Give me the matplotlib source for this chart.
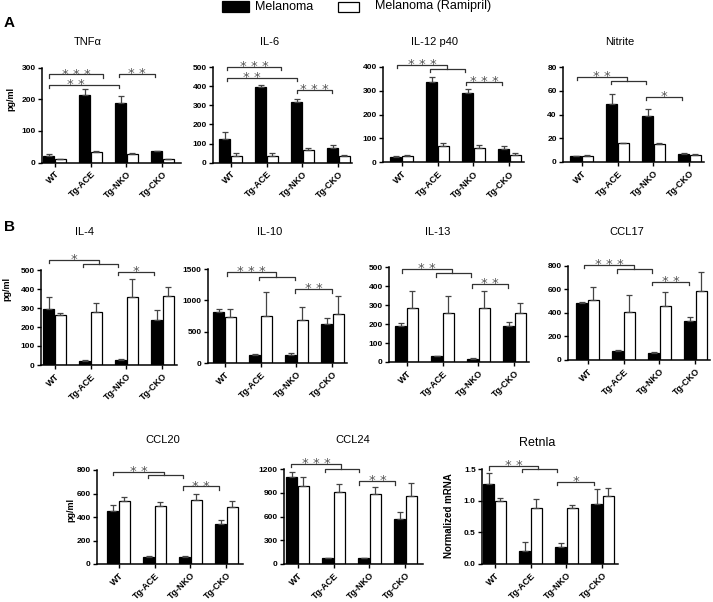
import matplotlib
matplotlib.use('Agg')
import matplotlib.pyplot as plt
from matplotlib.patches import Rectangle
import numpy as np

plt.rcParams['font.family'] = ['Liberation Sans', 'DejaVu Sans']

groups = ['WT', 'Tg-ACE', 'Tg-NKO', 'Tg-CKO']

# mean values and upper SEM, black = Melanoma, white = Melanoma (Ramipril)
tnfa_mel = [20, 212, 187, 37]
tnfa_mel_err = [8, 19, 23, 0]
tnfa_ram = [11, 35, 27, 11]
tnfa_ram_err = [2, 3, 3, 2]

il6_mel = [123, 396, 318, 75]
il6_mel_err = [38, 9, 17, 17]
il6_ram = [36, 36, 66, 35]
il6_ram_err = [13, 16, 9, 7]

il12_mel = [24, 335, 289, 56]
il12_mel_err = [1, 23, 17, 12]
il12_ram = [25, 68, 61, 31]
il12_ram_err = [6, 14, 11, 7]

nitrite_mel = [4.8, 48.8, 38.5, 7.0]
nitrite_mel_err = [0.3, 8.7, 6.1, 0.3]
nitrite_ram = [5.3, 15.7, 15.6, 6.1]
nitrite_ram_err = [0.3, 0.3, 0.3, 0.3]

il4_mel = [293, 23, 26, 237]
il4_mel_err = [67, 3, 3, 52]
il4_ram = [263, 279, 360, 363]
il4_ram_err = [12, 46, 91, 49]

il10_mel = [816, 122, 122, 625]
il10_mel_err = [43, 26, 32, 90]
il10_ram = [731, 753, 689, 784]
il10_ram_err = [133, 381, 201, 286]

il13_mel = [191, 30, 18, 189]
il13_mel_err = [12, 4, 3, 19]
il13_ram = [286, 256, 284, 256]
il13_ram_err = [89, 92, 91, 57]

ccl17_mel = [486, 76, 62, 331]
ccl17_mel_err = [9, 9, 3, 36]
ccl17_ram = [509, 404, 458, 585]
ccl17_ram_err = [107, 147, 122, 158]

ccl20_mel = [454, 57, 57, 338]
ccl20_mel_err = [48, 8, 8, 36]
ccl20_ram = [539, 496, 545, 482]
ccl20_ram_err = [28, 32, 51, 54]

ccl24_mel = [1099, 72, 72, 570]
ccl24_mel_err = [63, 4, 4, 89]
ccl24_ram = [985, 908, 887, 853]
ccl24_ram_err = [114, 106, 85, 169]

retnla_mel = [1.26, 0.21, 0.27, 0.94]
retnla_mel_err = [0.18, 0.14, 0.06, 0.24]
retnla_ram = [0.99, 0.89, 0.88, 1.07]
retnla_ram_err = [0.06, 0.13, 0.05, 0.13]

# layout in pixels: spine x, gap to first bar, extra after last bar, top y, zero y
W, H = 713, 602
panels = [
    dict(title='TNFα', mel=tnfa_mel, me=tnfa_mel_err, ram=tnfa_ram, re=tnfa_ram_err,
         ymax=300, step=100, box=(42, 1, 7, 67.5, 162.7), tpos=(88, 42), ylab=('pg/ml', 11, 99),
         br=[('s', -0.16, 1.35, 278, '* * *', 0.6), ('s', -0.16, 1.8, 246, '* *', 0.6),
             ('s', 1.79, 2.79, 281, '* *', None)]),
    dict(title='IL-6', mel=il6_mel, me=il6_mel_err, ram=il6_ram, re=il6_ram_err,
         ymax=500, step=100, box=(213, 6, 2, 67, 162.7), tpos=(270, 42), ylab=None,
         br=[('s', -0.09, 1.40, 501, '* * *', None), ('s', -0.09, 1.84, 443, '* *', 0.58),
             ('s', 1.84, 2.83, 382, '* * *', None)]),
    dict(title='IL-12 p40', mel=il12_mel, me=il12_mel_err, ram=il12_ram, re=il12_ram_err,
         ymax=400, step=100, box=(383, 7, 3, 66.7, 162.3), tpos=(435, 42), ylab=None,
         br=[('n', -0.12, 1.27, 408, 0.79, 1.77, 392, '* * *'), ('s', 1.79, 2.80, 337, '* * *', None)]),
    dict(title='Nitrite', mel=nitrite_mel, me=nitrite_mel_err, ram=nitrite_ram, re=nitrite_ram_err,
         ymax=80, step=20, box=(563, 7, 3, 67.3, 162), tpos=(620, 42), ylab=None,
         br=[('n', -0.12, 1.27, 72.1, 0.82, 1.79, 68.8, '* *'), ('s', 1.79, 2.80, 55.3, '*', None)]),
    dict(title='IL-4', mel=il4_mel, me=il4_mel_err, ram=il4_ram, re=il4_ram_err,
         ymax=500, step=100, box=(41, 2, 3, 270, 365), tpos=(85, 232), ylab=('pg/ml', 7, 289),
         br=[('n', -0.15, 1.24, 553, 0.78, 1.77, 532, '*'), ('s', 1.77, 2.77, 491, '*', None)]),
    dict(title='IL-10', mel=il10_mel, me=il10_mel_err, ram=il10_ram, re=il10_ram_err,
         ymax=1500, step=500, box=(208, 5, 3, 269, 363), tpos=(270, 232), ylab=None,
         br=[('n', 0.06, 1.43, 1447, 0.97, 1.96, 1377, '* * *'), ('s', 1.96, 2.99, 1176, '* *', None)]),
    dict(title='IL-13', mel=il13_mel, me=il13_mel_err, ram=il13_ram, re=il13_ram_err,
         ymax=500, step=100, box=(389, 6, 3, 267, 362), tpos=(438, 232), ylab=None,
         br=[('n', -0.12, 1.27, 488, 0.82, 1.78, 467, '* *'), ('s', 1.81, 2.81, 410, '* *', None)]),
    dict(title='CCL17', mel=ccl17_mel, me=ccl17_mel_err, ram=ccl17_ram, re=ccl17_ram_err,
         ymax=800, step=200, box=(568, 8, 3, 265.7, 360), tpos=(627, 232), ylab=None,
         br=[('n', -0.10, 1.29, 806, 0.83, 1.80, 772, '* * *'), ('s', 1.80, 2.82, 664, '* *', None)]),
    dict(title='CCL20', mel=ccl20_mel, me=ccl20_mel_err, ram=ccl20_ram, re=ccl20_ram_err,
         ymax=800, step=200, box=(97, 10, 5, 470, 564), tpos=(163, 440), ylab=('pg/ml', 71, 510),
         br=[('n', -0.15, 1.26, 787, 0.81, 1.78, 759, '* *'), ('s', 1.78, 2.79, 660, '* *', None)]),
    dict(title='CCL24', mel=ccl24_mel, me=ccl24_mel_err, ram=ccl24_ram, re=ccl24_ram_err,
         ymax=1200, step=300, box=(284, 2, 6, 469, 564), tpos=(353, 440), ylab=None,
         br=[('n', -0.18, 1.21, 1266, 0.75, 1.72, 1206, '* * *'), ('s', 1.72, 2.72, 1045, '* *', None)]),
    dict(title='Retnla', mel=retnla_mel, me=retnla_mel_err, ram=retnla_ram, re=retnla_ram_err,
         ymax=1.5, step=0.5, box=(482, 1, 4, 469, 564), tpos=(537, 443), ylab=('Normalized mRNA', 449, 516),
         br=[('n', -0.15, 1.22, 1.545, 0.77, 1.74, 1.503, '* *'), ('s', 1.74, 2.76, 1.297, '*', None)]),
]

fig = plt.figure(figsize=(W / 100, H / 100), dpi=100)
bw, off = 0.31, 0.165
lc = '#333333'

def star(ax, x, y, s):
    ax.annotate(s, xy=(x, y), xytext=(0, -2.2), textcoords='offset points', ha='center',
                va='baseline', fontsize=9.5, color='#555555', family='DejaVu Sans', annotation_clip=False)

for p in panels:
    S, g, e, T, B = p['box']
    wpx = 131 + g + e
    ax = fig.add_axes([S / W, 1 - B / H, wpx / W, (B - T) / H])
    x = np.arange(len(groups))
    ekw = dict(ecolor='#444444', elinewidth=0.9, capsize=2.3, capthick=0.9)
    ax.bar(x - off, p['mel'], bw, color='black', edgecolor='black', lw=0.9,
           yerr=[np.zeros(4), p['me']], error_kw=ekw)
    ax.bar(x + off, p['ram'], bw, color='white', edgecolor='black', lw=0.9,
           yerr=[np.zeros(4), p['re']], error_kw=ekw)
    ax.set_xlim(-0.32 - g / 36, 3.32 + e / 36)
    ax.set_ylim(0, p['ymax'])
    ax.set_yticks(np.arange(0, p['ymax'] + p['step'] / 2, p['step']))
    if p['ymax'] < 5:
        ax.yaxis.set_major_formatter(matplotlib.ticker.FormatStrFormatter('%.1f'))
    ax.set_xticks(x)
    ax.set_xticklabels(groups, rotation=45, ha='right', rotation_mode='anchor',
                       fontweight='bold', fontsize=6.5)
    for lab in ax.get_yticklabels():
        lab.set_fontweight('bold')
    ax.tick_params(direction='out', length=3, width=1, labelsize=6, pad=1.5)
    ax.tick_params(axis='x', labelsize=6.5, pad=2)
    for s in ['top', 'right']:
        ax.spines[s].set_visible(False)
    for s in ['left', 'bottom']:
        ax.spines[s].set_linewidth(1.1)
    t = 3.5 / (B - T) * p['ymax']
    for b in p['br']:
        if b[0] == 's':
            _, x1, x2, y, lab, lx = b
            ax.plot([x1, x1, x2, x2], [y - t, y, y, y - t], color=lc, lw=0.9, clip_on=False)
            star(ax, (x1 + x2) / 2 if lx is None else lx, y, lab)
        else:
            _, x1, xm, y1, xa, xb, y2, lab = b
            ax.plot([x1, x1, xm, xm], [y1 - t, y1, y1, y2], color=lc, lw=0.9, clip_on=False)
            ax.plot([xa, xa, xb, xb], [y2 - t, y2, y2, y2 - t], color=lc, lw=0.9, clip_on=False)
            star(ax, (x1 + xm) / 2, y1, lab)
    fs = 9 if p['title'] == 'Retnla' else 8
    fig.text(p['tpos'][0] / W, 1 - p['tpos'][1] / H, p['title'], ha='center', va='center', fontsize=fs)
    if p['ylab']:
        lab, lx, ly = p['ylab']
        fig.text(lx / W, 1 - ly / H, lab, rotation=90, ha='center', va='center',
                 fontsize=6.5 if lab == 'pg/ml' else 7, fontweight='bold')

# legend
fig.add_artist(Rectangle((222 / W, 1 - 12 / H), 27 / W, 11 / H, transform=fig.transFigure,
                         facecolor='black', edgecolor='black', lw=0.9))
fig.text(255 / W, 1 - 6.5 / H, 'Melanoma', ha='left', va='center', fontsize=9)
fig.add_artist(Rectangle((338 / W, 1 - 12 / H), 21 / W, 10 / H, transform=fig.transFigure,
                         facecolor='white', edgecolor='black', lw=0.9))
fig.text(375 / W, 1 - 6.5 / H, 'Melanoma (Ramipril)', ha='left', va='center', fontsize=9)

fig.text(4 / W, 1 - 23 / H, 'A', ha='left', va='center', fontsize=11, fontweight='bold')
fig.text(4 / W, 1 - 227 / H, 'B', ha='left', va='center', fontsize=11, fontweight='bold')

fig.savefig('out.png', dpi=100)
